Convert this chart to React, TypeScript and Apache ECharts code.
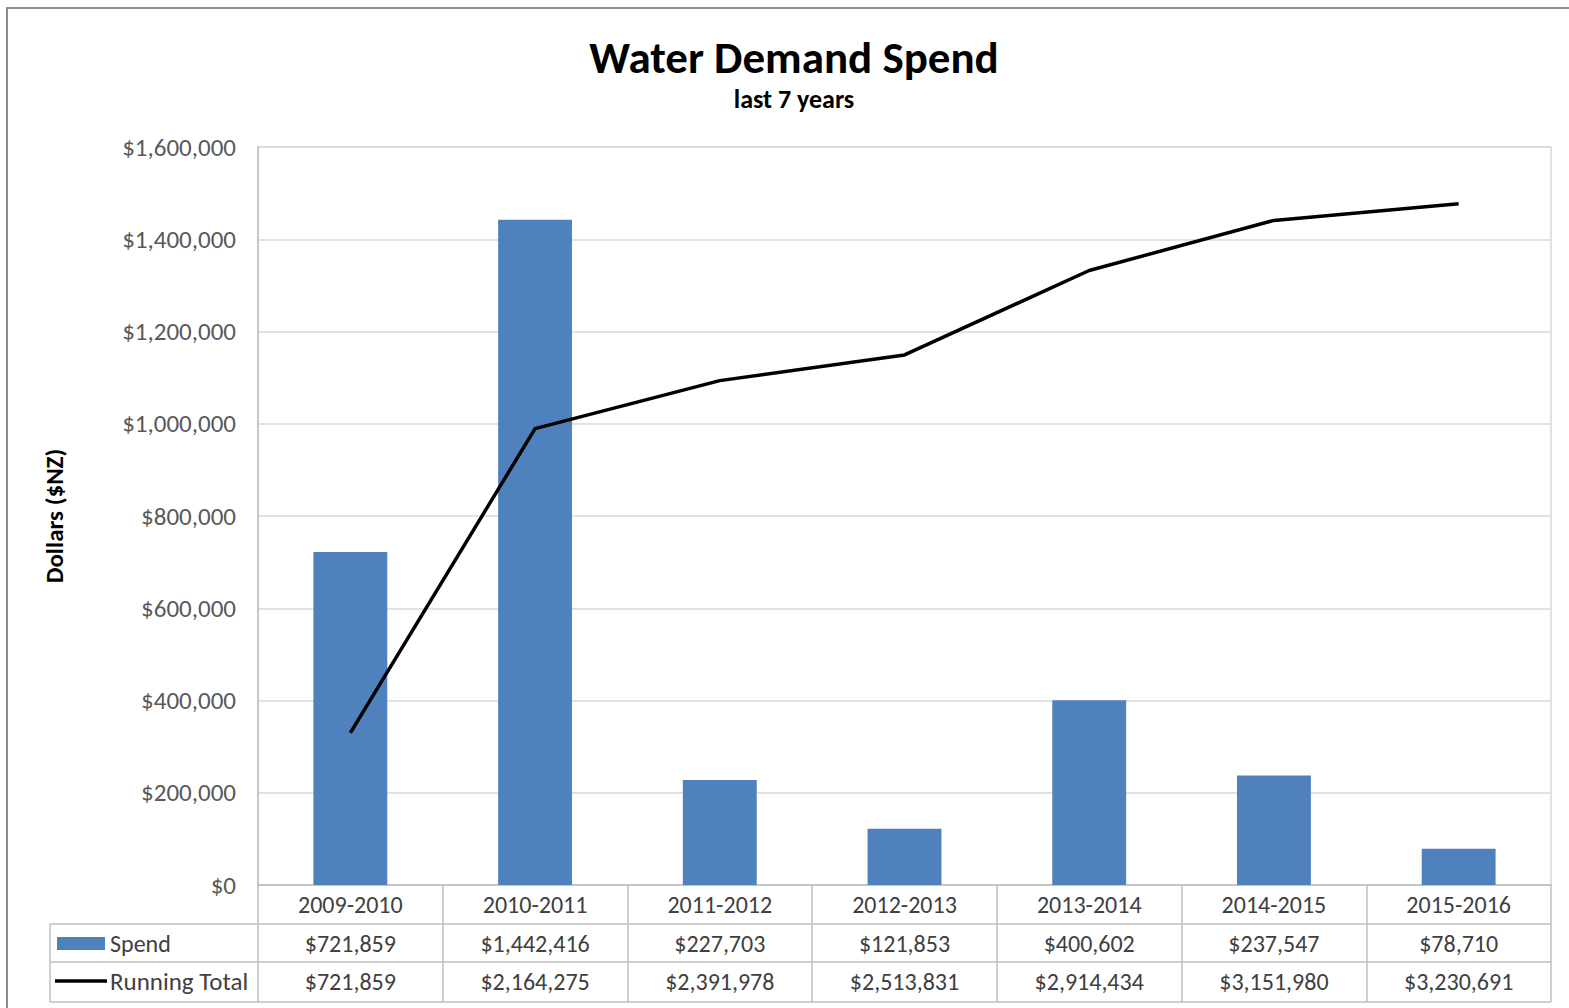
import React, { useEffect, useRef } from "react";
import * as echarts from "echarts";

const categories = ["2009-2010", "2010-2011", "2011-2012", "2012-2013", "2013-2014", "2014-2015", "2015-2016"];
const spend = [721859, 1442416, 227703, 121853, 400602, 237547, 78710];
const runningTotal = [721859, 2164275, 2391978, 2513831, 2914434, 3151980, 3230691];
const yTicks = { min: 0, max: 1600000, interval: 200000 };
const y2Range = { min: 0, max: 3500000 };

const FONT = "Carlito, Calibri, Lato, sans-serif";
const fmt = (v: number) => "$" + Math.round(v).toLocaleString("en-US");

const GRID = { left: 258, right: 18, top: 147, bottom: 123 };
const TABLE_LEFT = 50;
const TABLE_RIGHT = 1551;
const ROW_LINES = [924, 962, 1002];
const TABLE_FONT = 24;

export default function App() {
  const ref = useRef<HTMLDivElement>(null);
  useEffect(() => {
    document.body.style.margin = "0";
    const chart = echarts.init(ref.current!, null, { renderer: "svg" });
    const tableLineColor = "#bfbfbf";
    const graphics: any[] = [
      {
        type: "rect",
        shape: { x: 7, y: 8, width: 1580, height: 1020 },
        style: { fill: "none", stroke: "#8c8c8c", lineWidth: 2 },
        silent: true,
      },
      ...ROW_LINES.map((y) => ({
        type: "line",
        shape: { x1: TABLE_LEFT, y1: y, x2: TABLE_RIGHT, y2: y },
        style: { stroke: tableLineColor, lineWidth: 1.5 },
      })),
      {
        type: "line",
        shape: { x1: TABLE_LEFT, y1: ROW_LINES[0], x2: TABLE_LEFT, y2: ROW_LINES[2] },
        style: { stroke: tableLineColor, lineWidth: 1.5 },
      },
      {
        type: "rect",
        shape: { x: 57, y: 937, width: 48, height: 13 },
        style: { fill: "#4F81BD" },
      },
      {
        type: "line",
        shape: { x1: 55, y1: 981, x2: 107, y2: 981 },
        style: { stroke: "#000", lineWidth: 3.5 },
      },
      {
        type: "text",
        x: 110,
        y: 943,
        style: { text: "Spend", fontSize: TABLE_FONT, fontFamily: FONT, fill: "#404040", verticalAlign: "middle" },
      },
      {
        type: "text",
        x: 110,
        y: 981,
        style: { text: "Running Total", fontSize: 25, fontFamily: FONT, fill: "#404040", verticalAlign: "middle" },
      },
    ];
    const tableLabel = {
      fontSize: TABLE_FONT,
      fontFamily: FONT,
      color: "#404040",
      margin: 7,
      interval: 0,
    };
    chart.setOption({
      animation: false,
      backgroundColor: "#fff",
      title: {
        text: "Water Demand Spend",
        subtext: "last 7 years",
        left: 789,
        top: 30,
        textAlign: "center",
        itemGap: 6,
        textStyle: { fontFamily: FONT, fontSize: 45, fontWeight: "bold", color: "#000" },
        subtextStyle: { fontFamily: FONT, fontSize: 26, fontWeight: "bold", color: "#000" },
      },
      grid: { ...GRID, show: true, borderColor: "#d9d9d9", borderWidth: 1.5 },
      xAxis: [
        {
          type: "category",
          data: categories,
          axisLine: { lineStyle: { color: "#bfbfbf", width: 1.5 } },
          axisTick: { show: true, length: 117, interval: 0, lineStyle: { color: tableLineColor, width: 1.5 } },
          axisLabel: { ...tableLabel },
        },
        {
          type: "category",
          data: categories,
          position: "bottom",
          offset: 39,
          axisLine: { show: false },
          axisTick: { show: false },
          axisLabel: { ...tableLabel, formatter: (_v: string, i: number) => fmt(spend[i]) },
        },
        {
          type: "category",
          data: categories,
          position: "bottom",
          offset: 77,
          axisLine: { show: false },
          axisTick: { show: false },
          axisLabel: { ...tableLabel, formatter: (_v: string, i: number) => fmt(runningTotal[i]) },
        },
      ],
      yAxis: [
        {
          type: "value",
          min: yTicks.min,
          max: yTicks.max,
          interval: yTicks.interval,
          name: "Dollars ($NZ)",
          nameLocation: "middle",
          nameRotate: 90,
          nameGap: 191,
          nameTextStyle: { fontFamily: FONT, fontSize: 25, fontWeight: "bold", color: "#000" },
          axisLine: { show: true, lineStyle: { color: "#bfbfbf", width: 1.5 } },
          axisTick: { show: false },
          axisLabel: { fontSize: 25, fontFamily: FONT, color: "#595959", margin: 22, formatter: (v: number) => fmt(v) },
          splitLine: { lineStyle: { color: "#d9d9d9", width: 1.5 } },
        },
        {
          type: "value",
          min: y2Range.min,
          max: y2Range.max,
          show: false,
          splitLine: { show: false },
        },
      ],
      series: [
        {
          name: "Spend",
          type: "bar",
          data: spend,
          barWidth: "40%",
          itemStyle: { color: "#4F81BD" },
          xAxisIndex: 0,
          yAxisIndex: 0,
        },
        {
          name: "Running Total",
          type: "line",
          data: runningTotal,
          xAxisIndex: 0,
          yAxisIndex: 1,
          symbol: "none",
          lineStyle: { color: "#000", width: 3.5 },
          z: 5,
        },
      ],
      graphic: graphics,
    });
    return () => chart.dispose();
  }, []);
  return <div ref={ref} style={{ width: 1569, height: 1008 }} />;
}
